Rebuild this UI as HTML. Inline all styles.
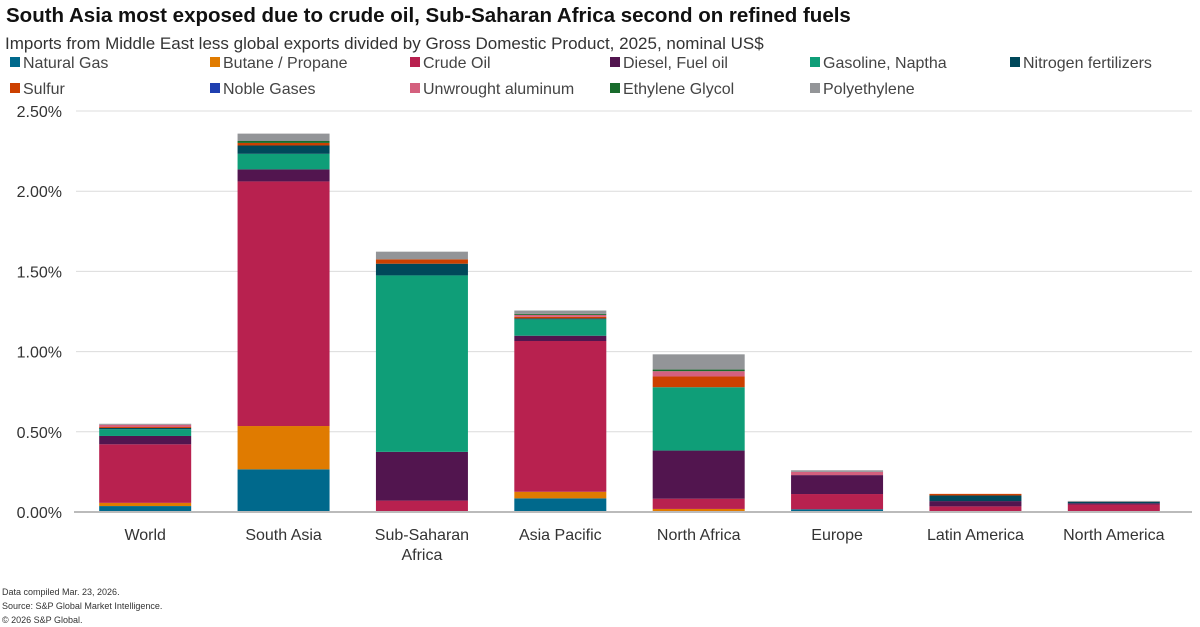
<!DOCTYPE html>
<html><head><meta charset="utf-8"><style>
body{margin:0;background:#fff;font-family:"Liberation Sans",sans-serif;color:#222}
#wrap{position:relative;width:1200px;height:627px;overflow:hidden}
.t{position:absolute;white-space:nowrap}
</style></head><body>
<div id="wrap">
<div class="t" style="left:6px;top:4px;font-size:20.5px;font-weight:bold;color:#111">South Asia most exposed due to crude oil, Sub-Saharan Africa second on refined fuels</div>
<div class="t" style="left:5px;top:34px;font-size:17px;color:#333">Imports from Middle East less global exports divided by Gross Domestic Product, 2025, nominal US$</div>
<svg id="chart" width="1200" height="627" style="position:absolute;left:0;top:0"></svg>
<div class="t" style="left:2px;top:587px;font-size:9px;color:#333">Data compiled Mar. 23, 2026.</div>
<div class="t" style="left:2px;top:601px;font-size:9px;color:#333">Source: S&amp;P Global Market Intelligence.</div>
<div class="t" style="left:2px;top:615px;font-size:9px;color:#333">© 2026 S&amp;P Global.</div>
</div>
<script>
const categories=["World","South Asia","Sub-Saharan Africa","Asia Pacific","North Africa","Europe","Latin America","North America"];
const seriesNames=["Natural Gas","Butane / Propane","Crude Oil","Diesel, Fuel oil","Gasoline, Naptha","Nitrogen fertilizers","Sulfur","Noble Gases","Unwrought aluminum","Ethylene Glycol","Polyethylene"];
const seriesColors=["#00698c","#e07b00","#b8214f","#52154f","#0f9e78","#00485a","#cc4000","#1f3fb0","#d4607e","#186b2c","#939598"];
const natGas=[0.037,0.266,0.002,0.085,0.002,0.017,0.002,0.002];
const butane=[0.02,0.27,0,0.041,0.017,0,0,0];
const crude=[0.365,1.525,0.069,0.94,0.064,0.095,0.033,0.045];
const diesel=[0.052,0.075,0.304,0.033,0.30,0.118,0.033,0.008];
const gasoline=[0.042,0.097,1.10,0.102,0.395,0,0,0];
const nitrogen=[0.008,0.052,0.073,0.006,0,0,0.035,0.008];
const sulfur=[0.006,0.016,0.027,0.01,0.067,0,0.01,0];
const noble=[0,0,0,0,0,0,0,0];
const aluminum=[0.014,0,0,0.012,0.033,0.02,0,0];
const glycol=[0,0.012,0,0.006,0.01,0,0,0];
const polyeth=[0.006,0.046,0.048,0.021,0.095,0.01,0,0.006];
const seriesValues=[natGas,butane,crude,diesel,gasoline,nitrogen,sulfur,noble,aluminum,glycol,polyeth];
const yTicks=[0,0.5,1,1.5,2,2.5];
const yTickLabels=["0.00%","0.50%","1.00%","1.50%","2.00%","2.50%"];

const NS="http://www.w3.org/2000/svg";
const svg=document.getElementById("chart");
const plotL=76,plotR=1183,y0=512,yTop=111,yMax=2.5;
const yScale=v=>y0-(v/yMax)*(y0-yTop);
const slot=(plotR-plotL)/categories.length;
const xCenter=i=>plotL+slot*(i+0.5);
const barW=92;
function mk(tag,attrs){const e=document.createElementNS(NS,tag);for(const k in attrs)e.setAttribute(k,attrs[k]);svg.appendChild(e);return e;}
yTicks.forEach((t,i)=>{
  if(t>0){const g=mk("line",{x1:plotL,x2:1192,y1:yScale(t),y2:yScale(t),stroke:"#dcdcdc","stroke-width":1});
  
  }
  const l=mk("text",{x:62,y:yScale(t)+6,"text-anchor":"end","font-size":16,fill:"#333","font-family":"Liberation Sans, sans-serif"});
  l.textContent=yTickLabels[i];
  
  
});
categories.forEach((c,i)=>{
  let acc=0;
  seriesValues.forEach((s,k)=>{
    const v=s[i];if(!v)return;
    const r=mk("rect",{x:xCenter(i)-barW/2,y:yScale(acc+v),width:barW,height:yScale(acc)-yScale(acc+v),fill:seriesColors[k]});
    
    
    acc+=v;
  });
  const parts=c==="Sub-Saharan Africa"?["Sub-Saharan","Africa"]:[c];
  parts.forEach((p,j)=>{
    const t=mk("text",{x:xCenter(i),y:540+j*20,"text-anchor":"middle","font-size":16,fill:"#333","font-family":"Liberation Sans, sans-serif"});
    t.textContent=p;
    
    
  });
});
const ax=mk("line",{x1:plotL-2,x2:1192,y1:y0,y2:y0,stroke:"#bbb","stroke-width":2});


seriesNames.forEach((n,k)=>{
  const col=k%6,row=Math.floor(k/6);
  const x=10+col*200,y=62+row*26;
  const sq=mk("rect",{x:x,y:y-5,width:10,height:10,fill:seriesColors[k]});
  
  
  const t=mk("text",{x:x+13,y:y+6,"font-size":16,fill:"#444","font-family":"Liberation Sans, sans-serif"});
  t.textContent=n;
  
  
});
</script>
</body></html>
